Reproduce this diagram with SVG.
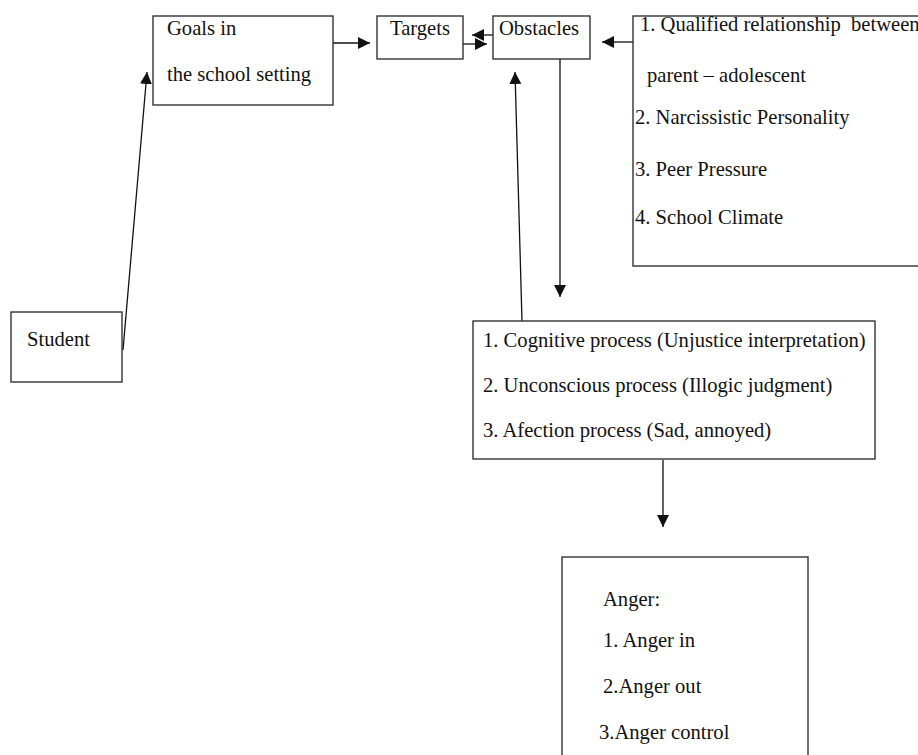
<svg xmlns="http://www.w3.org/2000/svg" width="918" height="755" viewBox="0 0 918 755">
<defs>
<style>
.box{fill:#fff;stroke:#333;stroke-width:1.4}
.t{font-family:"Liberation Serif","Times New Roman",serif;font-size:20.6px;fill:#111}
.c{stroke:#111;stroke-width:1.3;fill:none}
</style>
<marker id="ah" markerUnits="userSpaceOnUse" markerWidth="13" markerHeight="13" refX="12" refY="6" orient="auto" viewBox="0 0 13 12">
<path d="M0,0 L12,6 L0,12 z" fill="#111"/>
</marker>
</defs>
<rect width="918" height="755" fill="#fff"/>
<g id="connectors">
<line class="c" x1="123" y1="350" x2="147" y2="72" marker-end="url(#ah)"/>
<line class="c" x1="333" y1="43" x2="370" y2="43" marker-end="url(#ah)"/>
<line class="c" x1="493" y1="35" x2="472" y2="35" marker-end="url(#ah)"/>
<line class="c" x1="463" y1="44" x2="487" y2="44" marker-end="url(#ah)"/>
<line class="c" x1="633" y1="42" x2="602" y2="42" marker-end="url(#ah)"/>
<line class="c" x1="560" y1="59" x2="560" y2="297" marker-end="url(#ah)"/>
<line class="c" x1="522" y1="321" x2="515" y2="72" marker-end="url(#ah)"/>
<line class="c" x1="663" y1="460" x2="663" y2="527" marker-end="url(#ah)"/>
</g>
<g id="goals">
<rect class="box" x="153" y="16" width="180" height="89"/>
<text class="t" x="167" y="35">Goals in</text>
<text class="t" x="167" y="81">the school setting</text>
</g>
<g id="targets">
<rect class="box" x="377" y="16" width="86" height="43"/>
<text class="t" x="390" y="35">Targets</text>
</g>
<g id="obstacles">
<rect class="box" x="493" y="16" width="97" height="43"/>
<text class="t" x="499" y="35">Obstacles</text>
</g>
<g id="factors">
<rect class="box" x="633" y="16" width="300" height="250"/>
<text class="t" x="640" y="31">1. Qualified relationship&#160; between</text>
<text class="t" x="647" y="82">parent – adolescent</text>
<text class="t" x="635" y="124">2. Narcissistic Personality</text>
<text class="t" x="635" y="176">3. Peer Pressure</text>
<text class="t" x="635" y="224">4. School Climate</text>
</g>
<g id="student">
<rect class="box" x="11" y="312" width="111" height="70"/>
<text class="t" x="27" y="346">Student</text>
</g>
<g id="processes">
<rect class="box" x="473" y="321" width="402" height="138"/>
<text class="t" x="483" y="347">1. Cognitive process (Unjustice interpretation)</text>
<text class="t" x="483" y="392">2. Unconscious process (Illogic judgment)</text>
<text class="t" x="483" y="437">3. Afection process (Sad, annoyed)</text>
</g>
<g id="anger">
<rect class="box" x="562" y="557" width="246" height="220"/>
<text class="t" x="603" y="606">Anger:</text>
<text class="t" x="603" y="647">1. Anger in</text>
<text class="t" x="603" y="693">2.Anger out</text>
<text class="t" x="599" y="739">3.Anger control</text>
</g>
</svg>
